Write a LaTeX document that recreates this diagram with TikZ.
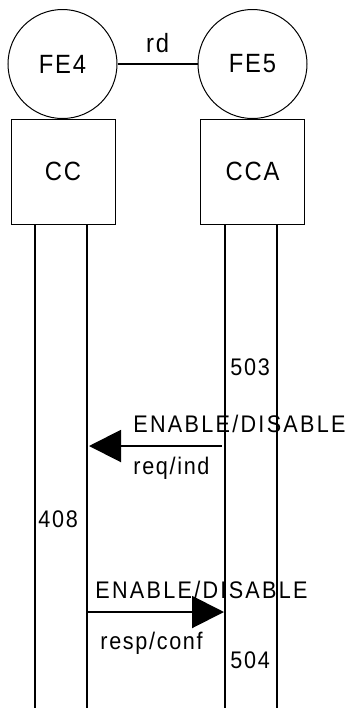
\documentclass[tikz,border=0pt]{standalone}
\usepackage{fontspec}
\setmainfont{Liberation Sans}[FakeStretch=0.9,LetterSpace=7]
\newfontfamily\capsfont{Liberation Sans}[FakeStretch=0.9,LetterSpace=9.5]
\usetikzlibrary{arrows.meta,positioning}

\begin{document}
\begin{tikzpicture}[x=0.5pt,y=-0.5pt,
    font=\fontsize{12}{14}\selectfont,
    fe/.style={circle,draw,line width=0.5pt,minimum size=54.5pt,inner sep=0pt,font=\fontsize{13.2}{15}\selectfont},
    ent/.style={draw,line width=0.5pt,minimum width=52pt,minimum height=52.5pt,inner sep=0pt,font=\fontsize{13.2}{15}\selectfont},
    life/.style={line width=1pt},
    msg/.style={line width=1pt,-{Triangle[length=16pt,width=16pt]}},
    lbl/.style={inner sep=0pt,anchor=base west},
    prim/.style={lbl,font=\fontsize{12}{14}\capsfont}]
  \useasboundingbox (0,0) rectangle (349,708);
  %% Functional entities and the rd relationship
  \node[fe] (fe4) at (62.5,64) {FE4};
  \node[fe] (fe5) at (252.5,64) {FE5};
  \draw[line width=1pt] (fe4) -- (fe5)
       node[midway,above=5pt,inner sep=0pt,font=\fontsize{13.2}{15}\selectfont] (rd) {rd};
  %% Entity boxes
  \node[ent] (cc)  at (63,171.5)  {CC};
  \node[ent] (cca) at (252.5,171.5) {CCA};
  %% Lifelines: two per entity
  \coordinate (cc1)  at (35,224);  \coordinate (cc1e)  at (35,708);
  \coordinate (cc2)  at (87,224);  \coordinate (cc2e)  at (87,708);
  \coordinate (cca1) at (225,224); \coordinate (cca1e) at (225,708);
  \coordinate (cca2) at (277,224); \coordinate (cca2e) at (277,708);
  \draw[life] (cc1)  -- (cc1e);
  \draw[life] (cc2)  -- (cc2e);
  \draw[life] (cca1) -- (cca1e);
  \draw[life] (cca2) -- (cca2e);
  %% Request / indication from CCA to CC
  \node[lbl] (n503) at (230,375) {503};
  \coordinate (reqs) at (222,446);
  \coordinate (reqe) at (89,446);
  \draw[msg] (reqs) -- (reqe);
  \node[prim] (reqtop) at (133,432) {ENABLE/DISABLE};
  \node[lbl]  (reqbot) at (133,474) {req/ind};
  \node[lbl]  (n408)   at (38,527)  {408};
  %% Response / confirmation from CC to CCA
  \coordinate (resps) at (87,612);
  \coordinate (respe) at (224,612);
  \draw[msg] (resps) -- (respe);
  \node[prim] (resptop) at (95,598)  {ENABLE/DISABLE};
  \node[lbl]  (respbot) at (100,649) {resp/conf};
  \node[lbl]  (n504)    at (230,668) {504};
\end{tikzpicture}
\end{document}
